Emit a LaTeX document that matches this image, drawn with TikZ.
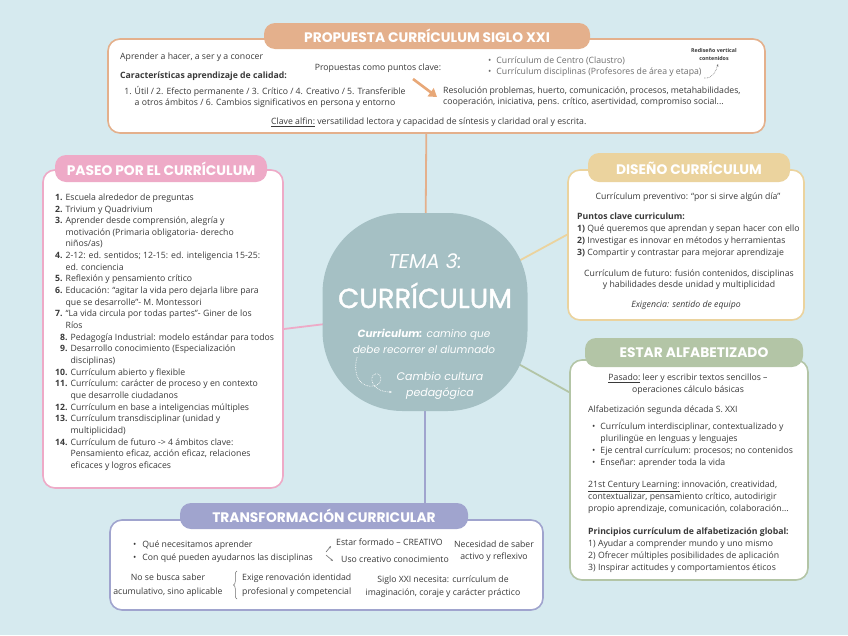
\documentclass[tikz,border=0pt]{standalone}
\usepackage{fontspec}
\setmainfont{Open Sans}
\newfontfamily\titlefont{Poppins}
\newfontfamily\titlemed[FakeBold=1.2]{Poppins}
\usetikzlibrary{arrows.meta,decorations.pathreplacing}
\definecolor{bgc}{HTML}{D6EAEF}
\definecolor{cOr}{HTML}{E4B08C}
\definecolor{cPk}{HTML}{EEAAC7}
\definecolor{cTn}{HTML}{EBD39E}
\definecolor{cGr}{HTML}{B3C5A6}
\definecolor{cLv}{HTML}{A0A4CE}
\definecolor{cBl}{HTML}{A5C0C4}
\definecolor{tx}{HTML}{3A3A3A}
\definecolor{tlg}{HTML}{6E6E6E}
\definecolor{cArr}{HTML}{E8A878}
\pgfdeclarelayer{back}
\pgfdeclarelayer{conn}
\pgfsetlayers{back,conn,main}
\newcommand\TL[1]{\begin{tabular}{@{}l@{}}#1\end{tabular}}
\newcommand\TC[1]{\begin{tabular}{@{}c@{}}#1\end{tabular}}
\tikzset{
  box/.style={draw, line width=1.6pt, fill=white, rounded corners=12pt, inner sep=0pt},
  tabnode/.style={rounded corners=11pt, inner sep=0pt, text=white, font=\titlefont\bfseries\fontsize{13.8}{15}\selectfont},
  txt/.style={inner sep=0pt, text=tx, font=\fontsize{8.7}{11.6}\selectfont},
  txtw/.style={inner sep=0pt, text=tx, font=\fontsize{8.7}{12}\selectfont},
  conn/.style={line width=1.8pt},
  ctxt/.style={inner sep=0pt, text=white},
}
\begin{document}
\begin{tikzpicture}[x=1pt,y=-1pt]
\useasboundingbox (0,0) rectangle (848,635);
\begin{pgfonlayer}{back}
\fill[bgc] (0,0) rectangle (848,635);
\end{pgfonlayer}
% ---------- boxes ----------
\node[box, draw=cOr, minimum width=657pt, minimum height=94pt] (pro) at (436.5,86) {};
\node[tabnode, fill=cOr, minimum width=326pt, minimum height=26pt] (ptab) at (427,36) {PROPUESTA CURRÍCULUM SIGLO XXI};

\node[box, draw=cPk, minimum width=240pt, minimum height=318pt] (pas) at (163,329) {};
\node[tabnode, fill=cPk, minimum width=212pt, minimum height=27pt] (pastab) at (161,168.5) {PASEO POR EL CURRÍCULUM};

\node[box, draw=cTn, minimum width=236pt, minimum height=150pt] (dis) at (686,245) {};
\node[tabnode, fill=cTn, minimum width=202pt, minimum height=29pt] (distab) at (689,167.5) {DISEÑO CURRÍCULUM};

\node[box, draw=cGr, minimum width=238pt, minimum height=220pt] (alf) at (689,470) {};
\node[tabnode, fill=cGr, minimum width=218pt, minimum height=29pt] (alftab) at (694,352.5) {ESTAR ALFABETIZADO};

\node[box, draw=cLv, minimum width=433pt, minimum height=90pt] (tra) at (326.5,565) {};
\node[tabnode, fill=cLv, minimum width=288pt, minimum height=26pt] (tratab) at (324,516) {TRANSFORMACIÓN CURRICULAR};

\node[fill=cBl, rounded corners=80pt, minimum width=205pt, minimum height=198pt, inner sep=0pt] (ctr) at (425,312) {};

% ---------- connectors ----------
\begin{pgfonlayer}{conn}
\draw[conn, cOr] (ptab.center) -- (ctr.center);
\draw[conn, cPk] (ctr.center) -- (pas.east);
\draw[conn, cTn] (ctr.center) -- (dis.175);
\draw[conn, cGr] (ctr.center) -- (alf.147);
\draw[conn, cLv] (ctr.center) -- (ctr.center |- tratab.north);
\end{pgfonlayer}

% ---------- centre ----------
\node[ctxt, anchor=base, font=\titlefont\itshape\fontsize{20}{22}\selectfont] (tema) at (425,268) {TEMA 3:};
\node[ctxt, anchor=base, font=\titlemed\fontsize{27.5}{30}\selectfont] (curr) at (425,308) {CURRÍCULUM};
\node[ctxt, align=center, font=\titlefont\itshape\fontsize{10.5}{16}\selectfont] (def) at (424,341) {\textbf{Curriculum:} camino que\\debe recorrer el alumnado};
\node[ctxt, align=center, font=\titlefont\itshape\fontsize{11}{16}\selectfont] (camb) at (440,386) {Cambio cultura\\pedagógica};
\draw[white, densely dotted, line width=0.7pt, -{Stealth[length=3pt]}] (357,357) .. controls (352,378) and (362,388) .. (374,386) .. controls (384,384) and (382,372) .. (375,374) .. controls (368,377) and (372,392) .. (392,392);

% ---------- top box text ----------
\node[txt, anchor=north west] (p1) at (120,51) {\TL{Aprender a hacer, a ser y a conocer}};
\node[txt, anchor=north west] (p2) at (120,70) {\TL{\textbf{Características aprendizaje de calidad:}}};
\node[txt, anchor=north, font=\fontsize{8.7}{11}\selectfont] (p3) at (265,86) {\TC{1. Útil / 2. Efecto permanente / 3. Crítico / 4. Creativo / 5. Transferible\\a otros ámbitos / 6. Cambios significativos en persona y entorno}};
\node[txt, anchor=north] (p4) at (378,62) {\TC{Propuestas como puntos clave:}};
\node[txt, anchor=north west, text=tlg, font=\fontsize{8.7}{11}\selectfont] (p5) at (488,56) {\begin{tabular}{@{}l@{\hspace{5pt}}l@{}}•&Currículum de Centro (Claustro)\\•&Currículum disciplinas (Profesores de área y etapa)\end{tabular}};
\node[inner sep=0pt, text=tx, align=center, font=\bfseries\fontsize{5.3}{8.5}\selectfont] (p6) at (714,54.5) {Rediseño vertical\\contenidos};
\draw[tlg, densely dotted, line width=0.6pt, -{Stealth[length=2.5pt]}] (704,78) .. controls (712,79) and (716,72) .. (718,64);
\draw[cArr, line width=2.6pt, -{Triangle[width=10pt,length=8pt]}] (413,79) -- (437,97);
\node[txt, anchor=north west, font=\fontsize{8.7}{11}\selectfont] (p7) at (443,86) {\TL{Resolución problemas, huerto, comunicación, procesos, metahabilidades,\\cooperación, iniciativa, pens. crítico, asertividad, compromiso social...}};
\node[txt, anchor=north west] (p8) at (271,116) {\TL{\underline{Clave alfin:} versatilidad lectora y capacidad de síntesis y claridad oral y escrita.}};

% ---------- paseo ----------
\node[txt, anchor=north west, font=\fontsize{8.7}{11.65}\selectfont] (la) at (55,192) {\begin{tabular}{@{}l@{\hspace{3pt}}l@{}}
\textbf{1.}&Escuela alrededor de preguntas\\
\textbf{2.}&Trivium y Quadrivium\\
\textbf{3.}&Aprender desde comprensión, alegría y\\
&motivación (Primaria obligatoria- derecho\\
&niños/as)\\
\textbf{4.}&2-12: ed. sentidos; 12-15: ed. inteligencia 15-25:\\
&ed. conciencia\\
\textbf{5.}&Reflexión y pensamiento crítico\\
\textbf{6.}&Educación: “agitar la vida pero dejarla libre para\\
&que se desarrolle”- M. Montessori\\
\textbf{7.}&“La vida circula por todas partes”- Giner de los\\
&Ríos
\end{tabular}};
\node[txt, anchor=north west, font=\fontsize{8.7}{11.65}\selectfont] (lb) at (55,331.8) {\begin{tabular}{@{}r@{\hspace{3pt}}l@{}}
\textbf{8.}&Pedagogía Industrial: modelo estándar para todos\\
\textbf{9.}&Desarrollo conocimiento (Especialización\\
&disciplinas)\\
\textbf{10.}&Currículum abierto y flexible\\
\textbf{11.}&Currículum: carácter de proceso y en contexto\\
&que desarrolle ciudadanos\\
\textbf{12.}&Currículum en base a inteligencias múltiples\\
\textbf{13.}&Currículum transdisciplinar (unidad y\\
&multiplicidad)\\
\textbf{14.}&Currículum de futuro -> 4 ámbitos clave:\\
&Pensamiento eficaz, acción eficaz, relaciones\\
&eficaces y logros eficaces
\end{tabular}};

% ---------- diseño ----------
\node[txt, anchor=north] (d1) at (688,191) {\TC{Currículum preventivo: “por si sirve algún día”}};
\node[txtw, anchor=north west] (d2) at (577,210.6) {\TL{\textbf{Puntos clave curriculum:}\\\textbf{1)} Qué queremos que aprendan y sepan hacer con ello\\\textbf{2)} Investigar es innovar en métodos y herramientas\\\textbf{3)} Compartir y contrastar para mejorar aprendizaje}};
\node[txt, anchor=north, font=\fontsize{8.7}{11}\selectfont] (d3) at (689,269) {\TC{Currículum de futuro: fusión contenidos, disciplinas\\y habilidades desde unidad y multiplicidad}};
\node[txt, anchor=north] (d4) at (686,299) {\TC{\textit{Exigencia: sentido de equipo}}};

% ---------- alfabetizado ----------
\node[txtw, anchor=north] (a1) at (688,372) {\TC{\underline{Pasado:} leer y escribir textos sencillos –\\operaciones cálculo básicas}};
\node[txt, anchor=north west] (a2) at (588,404) {\TL{Alfabetización segunda década S. XXI}};
\node[txtw, anchor=north west] (a3) at (592,421) {\begin{tabular}{@{}l@{\hspace{5pt}}l@{}}•&Currículum interdisciplinar, contextualizado y\\&plurilingüe en lenguas y lenguajes\\•&Eje central currículum: procesos; no contenidos\\•&Enseñar: aprender toda la vida\end{tabular}};
\node[txt, anchor=north west] (a4) at (588,479) {\TL{\underline{21st Century Learning:} innovación, creatividad,\\contextualizar, pensamiento crítico, autodirigir\\propio aprendizaje, comunicación, colaboración...}};
\node[txtw, anchor=north west] (a5) at (588,526) {\TL{\textbf{Principios currículum de alfabetización global:}\\1) Ayudar a comprender mundo y uno mismo\\2) Ofrecer múltiples posibilidades de aplicación\\3) Inspirar actitudes y comportamientos éticos}};

% ---------- transformación ----------
\node[txt, anchor=north west, font=\fontsize{8.7}{12.5}\selectfont] (t1) at (133,539) {\begin{tabular}{@{}l@{\hspace{6pt}}l@{}}•&Qué necesitamos aprender\\•&Con qué pueden ayudarnos las disciplinas\end{tabular}};
\node[txt, anchor=north west] (t2) at (336,537) {\TL{Estar formado – CREATIVO}};
\node[txt, anchor=north west] (t3) at (341,554) {\TL{Uso creativo conocimiento}};
\draw[tlg, line width=0.6pt, -{Stealth[length=2.5pt]}] (326,552) -- (331,546);
\draw[tlg, line width=0.6pt, -{Stealth[length=2.5pt]}] (326,555) -- (333,561);
\node[txtw, anchor=north] (t4) at (494,539) {\TC{Necesidad de saber\\activo y reflexivo}};
\node[txt, anchor=north, font=\fontsize{8.7}{13.5}\selectfont] (t5) at (168,571) {\TC{No se busca saber\\acumulativo, sino aplicable}};
\draw[tlg, line width=0.5pt, decorate, decoration={brace, amplitude=3.5pt}] (237,599) -- (237,571);
\node[txt, anchor=north west, font=\fontsize{8.7}{13.5}\selectfont] (t6) at (242,571) {\TL{Exige renovación identidad\\profesional y competencial}};
\node[txt, anchor=north, font=\fontsize{8.7}{13}\selectfont] (t7) at (443,573) {\TC{Siglo XXI necesita: currículum de\\imaginación, coraje y carácter práctico}};
\end{tikzpicture}
\end{document}
